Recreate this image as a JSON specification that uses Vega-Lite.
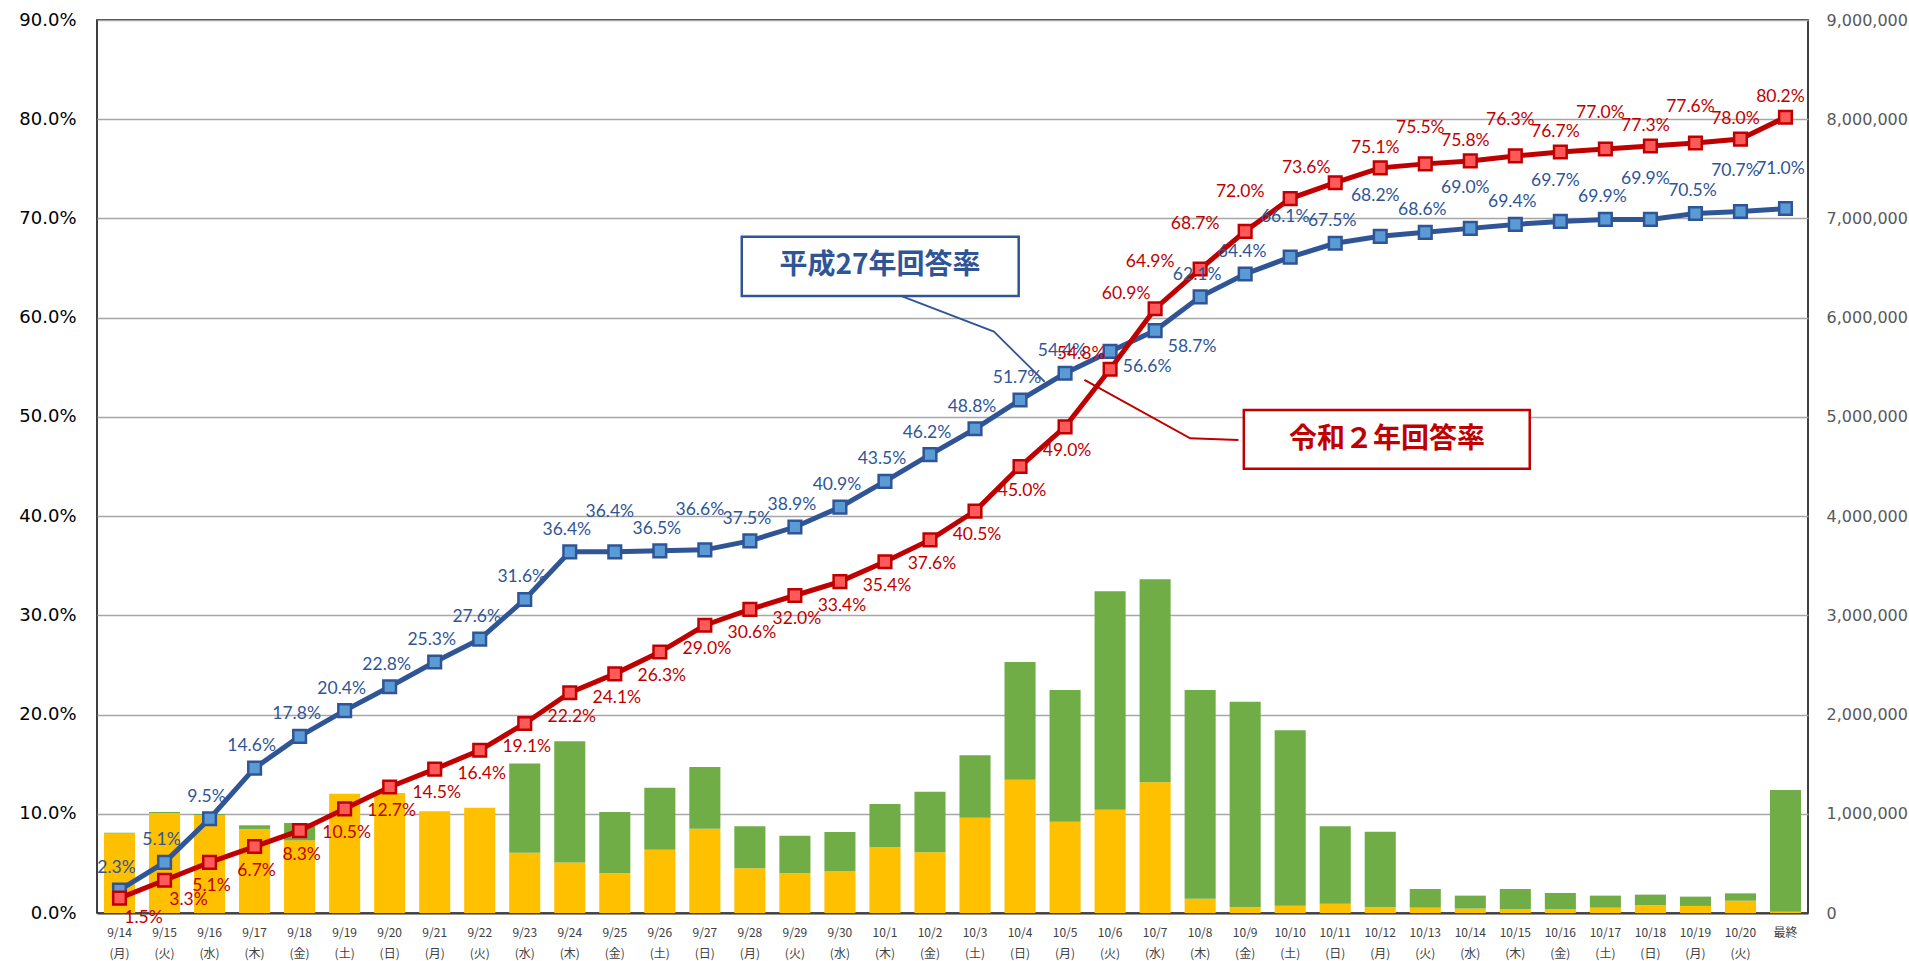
{
  "$schema": "https://vega.github.io/schema/vega-lite/v6.json",
  "width": 1711,
  "height": 893,
  "autosize": {"type": "none"},
  "padding": {"left": 97, "top": 20, "right": 101, "bottom": 48},
  "background": "#ffffff",
  "config": {
    "view": {"stroke": "#000000", "strokeWidth": 1.5},
    "axis": {"labelFont": "DejaVu Sans"}
  },
  "datasets": {
    "main": [
      {"d": "9/14|(月)", "net": 800000, "mail": 10000, "h27": 0.023, "r2": 0.015},
      {"d": "9/15|(火)", "net": 1008000, "mail": 10000, "h27": 0.051, "r2": 0.033},
      {"d": "9/16|(水)", "net": 985000, "mail": 13000, "h27": 0.095, "r2": 0.051},
      {"d": "9/17|(木)", "net": 847000, "mail": 37000, "h27": 0.146, "r2": 0.067},
      {"d": "9/18|(金)", "net": 732000, "mail": 175000, "h27": 0.178, "r2": 0.083},
      {"d": "9/19|(土)", "net": 1203000, "mail": 0, "h27": 0.204, "r2": 0.105},
      {"d": "9/20|(日)", "net": 1210000, "mail": 0, "h27": 0.228, "r2": 0.127},
      {"d": "9/21|(月)", "net": 1025000, "mail": 0, "h27": 0.253, "r2": 0.145},
      {"d": "9/22|(火)", "net": 1062000, "mail": 0, "h27": 0.276, "r2": 0.164},
      {"d": "9/23|(水)", "net": 606000, "mail": 901000, "h27": 0.316, "r2": 0.191},
      {"d": "9/24|(木)", "net": 508000, "mail": 1222000, "h27": 0.364, "r2": 0.222},
      {"d": "9/25|(金)", "net": 400000, "mail": 618000, "h27": 0.364, "r2": 0.241},
      {"d": "9/26|(土)", "net": 638000, "mail": 625000, "h27": 0.365, "r2": 0.263},
      {"d": "9/27|(日)", "net": 850000, "mail": 622000, "h27": 0.366, "r2": 0.290},
      {"d": "9/28|(月)", "net": 450000, "mail": 424000, "h27": 0.375, "r2": 0.306},
      {"d": "9/29|(火)", "net": 400000, "mail": 379000, "h27": 0.389, "r2": 0.320},
      {"d": "9/30|(水)", "net": 423000, "mail": 393000, "h27": 0.409, "r2": 0.334},
      {"d": "10/1|(木)", "net": 665000, "mail": 434000, "h27": 0.435, "r2": 0.354},
      {"d": "10/2|(金)", "net": 612000, "mail": 611000, "h27": 0.462, "r2": 0.376},
      {"d": "10/3|(土)", "net": 961000, "mail": 629000, "h27": 0.488, "r2": 0.405},
      {"d": "10/4|(日)", "net": 1344000, "mail": 1186000, "h27": 0.517, "r2": 0.450},
      {"d": "10/5|(月)", "net": 920000, "mail": 1328000, "h27": 0.544, "r2": 0.490},
      {"d": "10/6|(火)", "net": 1041000, "mail": 2202000, "h27": 0.566, "r2": 0.548},
      {"d": "10/7|(水)", "net": 1317000, "mail": 2047000, "h27": 0.587, "r2": 0.609},
      {"d": "10/8|(木)", "net": 144000, "mail": 2104000, "h27": 0.621, "r2": 0.649},
      {"d": "10/9|(金)", "net": 60000, "mail": 2070000, "h27": 0.644, "r2": 0.687},
      {"d": "10/10|(土)", "net": 74000, "mail": 1767000, "h27": 0.661, "r2": 0.720},
      {"d": "10/11|(日)", "net": 94000, "mail": 780000, "h27": 0.675, "r2": 0.736},
      {"d": "10/12|(月)", "net": 60000, "mail": 760000, "h27": 0.682, "r2": 0.751},
      {"d": "10/13|(火)", "net": 54000, "mail": 188000, "h27": 0.686, "r2": 0.755},
      {"d": "10/14|(水)", "net": 45000, "mail": 130000, "h27": 0.690, "r2": 0.758},
      {"d": "10/15|(木)", "net": 40000, "mail": 202000, "h27": 0.694, "r2": 0.763},
      {"d": "10/16|(金)", "net": 40000, "mail": 162000, "h27": 0.697, "r2": 0.767},
      {"d": "10/17|(土)", "net": 54000, "mail": 121000, "h27": 0.699, "r2": 0.770},
      {"d": "10/18|(日)", "net": 78000, "mail": 107000, "h27": 0.699, "r2": 0.773},
      {"d": "10/19|(月)", "net": 71000, "mail": 94000, "h27": 0.705, "r2": 0.776},
      {"d": "10/20|(火)", "net": 124000, "mail": 74000, "h27": 0.707, "r2": 0.780},
      {"d": "最終", "net": 13000, "mail": 1227000, "h27": 0.710, "r2": 0.802}
    ],
    "lead": [
      {"series": "H27", "x": 17.68, "y": 0.6249, "o": 1},
      {"series": "H27", "x": 19.92, "y": 0.5860, "o": 2},
      {"series": "H27", "x": 21.05, "y": 0.5352, "o": 3},
      {"series": "R2", "x": 25.35, "y": 0.4767, "o": 1},
      {"series": "R2", "x": 24.28, "y": 0.4784, "o": 2},
      {"series": "R2", "x": 21.93, "y": 0.5372, "o": 3}
    ],
    "annot": [
      {"series": "H27", "x1": 14.32, "x2": 20.47, "y1": 0.6816, "y2": 0.6219, "xm": 17.39, "ym": 0.6517, "t": "平成27年回答率"},
      {"series": "R2", "x1": 25.47, "x2": 31.82, "y1": 0.5069, "y2": 0.4478, "xm": 28.65, "ym": 0.4767, "t": "令和２年回答率"}
    ]
  },
  "data": {"name": "main"},
  "encoding": {
    "x": {
      "field": "d", "type": "nominal", "sort": null,
      "scale": {
        "domain": ["9/14|(月)", "9/15|(火)", "9/16|(水)", "9/17|(木)", "9/18|(金)", "9/19|(土)", "9/20|(日)", "9/21|(月)", "9/22|(火)", "9/23|(水)", "9/24|(木)", "9/25|(金)", "9/26|(土)", "9/27|(日)", "9/28|(月)", "9/29|(火)", "9/30|(水)", "10/1|(木)", "10/2|(金)", "10/3|(土)", "10/4|(日)", "10/5|(月)", "10/6|(火)", "10/7|(水)", "10/8|(木)", "10/9|(金)", "10/10|(土)", "10/11|(日)", "10/12|(月)", "10/13|(火)", "10/14|(水)", "10/15|(木)", "10/16|(金)", "10/17|(土)", "10/18|(日)", "10/19|(月)", "10/20|(火)", "最終"],
        "paddingInner": 0.31, "paddingOuter": 0.155
      },
      "axis": null
    }
  },
  "layer": [
    {
      "transform": [{"fold": ["net", "mail"], "as": ["k", "v"]}],
      "mark": {"type": "bar"},
      "encoding": {
        "x": {
          "field": "d", "type": "nominal", "sort": null,
          "scale": {
            "domain": ["9/14|(月)", "9/15|(火)", "9/16|(水)", "9/17|(木)", "9/18|(金)", "9/19|(土)", "9/20|(日)", "9/21|(月)", "9/22|(火)", "9/23|(水)", "9/24|(木)", "9/25|(金)", "9/26|(土)", "9/27|(日)", "9/28|(月)", "9/29|(火)", "9/30|(水)", "10/1|(木)", "10/2|(金)", "10/3|(土)", "10/4|(日)", "10/5|(月)", "10/6|(火)", "10/7|(水)", "10/8|(木)", "10/9|(金)", "10/10|(土)", "10/11|(日)", "10/12|(月)", "10/13|(火)", "10/14|(水)", "10/15|(木)", "10/16|(金)", "10/17|(土)", "10/18|(日)", "10/19|(月)", "10/20|(火)", "最終"],
            "paddingInner": 0.31, "paddingOuter": 0.155
          },
          "axis": {
            "title": null, "labelAngle": 0, "labelExpr": "split(datum.value, '|')",
            "labelFont": "Noto Sans CJK JP", "labelFontSize": 12, "labelColor": "#404040",
            "labelLineHeight": 21, "labelPadding": 14, "labelOverlap": false,
            "ticks": false, "domainColor": "#404040", "domainWidth": 2
          }
        },
        "y": {
          "field": "v", "type": "quantitative", "stack": "zero",
          "scale": {"domain": [0, 9000000], "nice": false},
          "axis": {
            "orient": "right", "title": null,
            "values": [0, 1000000, 2000000, 3000000, 4000000, 5000000, 6000000, 7000000, 8000000, 9000000],
            "format": ",d", "labelFontSize": 16, "labelColor": "#595959", "labelPadding": 18,
            "ticks": false, "domain": false, "grid": false
          }
        },
        "color": {
          "field": "k", "type": "nominal",
          "scale": {"domain": ["net", "mail"], "range": ["#FFC000", "#70AD47"]},
          "legend": null
        },
        "order": {"field": "k", "sort": "descending"}
      }
    },
    {
      "mark": {"type": "line", "color": "#2F5597", "strokeWidth": 5},
      "encoding": {
        "y": {
          "field": "h27", "type": "quantitative",
          "scale": {"domain": [0, 0.9], "nice": false},
          "axis": {
            "orient": "left", "title": null,
            "values": [0, 0.1, 0.2, 0.3, 0.4, 0.5, 0.6, 0.7, 0.8, 0.9],
            "format": ".1%", "labelFontSize": 18, "labelColor": "#000000", "labelPadding": 21,
            "ticks": false, "domain": false, "grid": true, "gridColor": "#A6A6A6", "gridWidth": 1.5
          }
        }
      }
    },
    {
      "mark": {"type": "point", "shape": "square", "size": 160, "filled": true, "fill": "#5B9BD5", "stroke": "#2F5597", "strokeWidth": 2.5, "opacity": 1},
      "encoding": {"y": {"field": "h27", "type": "quantitative", "scale": {"domain": [0, 0.9], "nice": false}, "axis": null}}
    },
    {
      "mark": {"type": "line", "color": "#C00000", "strokeWidth": 5},
      "encoding": {"y": {"field": "r2", "type": "quantitative", "scale": {"domain": [0, 0.9], "nice": false}, "axis": null}}
    },
    {
      "mark": {"type": "point", "shape": "square", "size": 160, "filled": true, "fill": "#FF5A5A", "stroke": "#C00000", "strokeWidth": 2.5, "opacity": 1},
      "encoding": {"y": {"field": "r2", "type": "quantitative", "scale": {"domain": [0, 0.9], "nice": false}, "axis": null}}
    },
    {
      "transform": [{"filter": {"not": {"field": "d", "oneOf": ["9/25|(金)", "9/27|(日)", "10/10|(土)", "10/12|(月)", "10/14|(水)", "10/16|(金)", "10/18|(日)", "10/20|(火)", "最終", "10/6|(火)", "10/7|(水)"]}}}],
      "mark": {"type": "text", "font": "Lato", "fontSize": 17.5, "color": "#2F5597", "dx": -3, "dy": -22},
      "encoding": {"y": {"field": "h27", "type": "quantitative", "scale": {"domain": [0, 0.9], "nice": false}, "axis": null}, "text": {"field": "h27", "type": "quantitative", "format": ".1%"}}
    },
    {
      "transform": [{"filter": {"field": "d", "oneOf": ["9/25|(金)", "9/27|(日)", "10/10|(土)", "10/12|(月)", "10/14|(水)", "10/16|(金)", "10/18|(日)", "10/20|(火)", "最終"]}}],
      "mark": {"type": "text", "font": "Lato", "fontSize": 17.5, "color": "#2F5597", "dx": -5, "dy": -40},
      "encoding": {"y": {"field": "h27", "type": "quantitative", "scale": {"domain": [0, 0.9], "nice": false}, "axis": null}, "text": {"field": "h27", "type": "quantitative", "format": ".1%"}}
    },
    {
      "transform": [{"filter": {"field": "d", "oneOf": ["10/6|(火)", "10/7|(水)"]}}],
      "mark": {"type": "text", "font": "Lato", "fontSize": 17.5, "color": "#2F5597", "dx": 37, "dy": 16},
      "encoding": {"y": {"field": "h27", "type": "quantitative", "scale": {"domain": [0, 0.9], "nice": false}, "axis": null}, "text": {"field": "h27", "type": "quantitative", "format": ".1%"}}
    },
    {
      "transform": [{"filter": {"field": "d", "oneOf": ["9/14|(月)", "9/15|(火)"]}}],
      "mark": {"type": "text", "font": "Lato", "fontSize": 17.5, "color": "#C00000", "dx": 24, "dy": 20},
      "encoding": {"y": {"field": "r2", "type": "quantitative", "scale": {"domain": [0, 0.9], "nice": false}, "axis": null}, "text": {"field": "r2", "type": "quantitative", "format": ".1%"}}
    },
    {
      "transform": [{"filter": {"not": {"field": "d", "oneOf": ["9/14|(月)", "9/15|(火)", "10/6|(火)", "10/7|(水)", "10/8|(木)", "10/9|(金)", "10/10|(土)", "10/11|(日)", "10/12|(月)", "10/13|(火)", "10/14|(水)", "10/15|(木)", "10/16|(金)", "10/17|(土)", "10/18|(日)", "10/19|(月)", "10/20|(火)", "最終"]}}}],
      "mark": {"type": "text", "font": "Lato", "fontSize": 17.5, "color": "#C00000", "dx": 2, "dy": 24},
      "encoding": {"y": {"field": "r2", "type": "quantitative", "scale": {"domain": [0, 0.9], "nice": false}, "axis": null}, "text": {"field": "r2", "type": "quantitative", "format": ".1%"}}
    },
    {
      "transform": [{"filter": {"field": "d", "oneOf": ["10/8|(木)", "10/9|(金)", "10/10|(土)"]}}],
      "mark": {"type": "text", "font": "Lato", "fontSize": 17.5, "color": "#C00000", "dx": -50, "dy": -7},
      "encoding": {"y": {"field": "r2", "type": "quantitative", "scale": {"domain": [0, 0.9], "nice": false}, "axis": null}, "text": {"field": "r2", "type": "quantitative", "format": ".1%"}}
    },
    {
      "transform": [{"filter": {"field": "d", "oneOf": ["10/6|(火)", "10/7|(水)", "10/11|(日)"]}}],
      "mark": {"type": "text", "font": "Lato", "fontSize": 17.5, "color": "#C00000", "dx": -29, "dy": -15},
      "encoding": {"y": {"field": "r2", "type": "quantitative", "scale": {"domain": [0, 0.9], "nice": false}, "axis": null}, "text": {"field": "r2", "type": "quantitative", "format": ".1%"}}
    },
    {
      "transform": [{"filter": {"field": "d", "oneOf": ["10/12|(月)", "10/14|(水)", "10/16|(金)", "10/18|(日)", "10/20|(火)", "最終"]}}],
      "mark": {"type": "text", "font": "Lato", "fontSize": 17.5, "color": "#C00000", "dx": -5, "dy": -20},
      "encoding": {"y": {"field": "r2", "type": "quantitative", "scale": {"domain": [0, 0.9], "nice": false}, "axis": null}, "text": {"field": "r2", "type": "quantitative", "format": ".1%"}}
    },
    {
      "transform": [{"filter": {"field": "d", "oneOf": ["10/13|(火)", "10/15|(木)", "10/17|(土)", "10/19|(月)"]}}],
      "mark": {"type": "text", "font": "Lato", "fontSize": 17.5, "color": "#C00000", "dx": -5, "dy": -36},
      "encoding": {"y": {"field": "r2", "type": "quantitative", "scale": {"domain": [0, 0.9], "nice": false}, "axis": null}, "text": {"field": "r2", "type": "quantitative", "format": ".1%"}}
    },
    {
      "data": {"name": "lead"},
      "transform": [{"filter": {"field": "series", "equal": "H27"}}],
      "mark": {"type": "line", "strokeWidth": 1.8, "color": "#2F5597"},
      "encoding": {
        "x": {"field": "x", "type": "quantitative", "scale": {"domain": [0, 38], "nice": false, "zero": false}, "axis": null},
        "y": {"field": "y", "type": "quantitative", "scale": {"domain": [0, 0.9], "nice": false}, "axis": null},
        "order": {"field": "o"}
      }
    },
    {
      "data": {"name": "lead"},
      "transform": [{"filter": {"field": "series", "equal": "R2"}}],
      "mark": {"type": "line", "strokeWidth": 2, "color": "#C00000"},
      "encoding": {
        "x": {"field": "x", "type": "quantitative", "scale": {"domain": [0, 38], "nice": false, "zero": false}, "axis": null},
        "y": {"field": "y", "type": "quantitative", "scale": {"domain": [0, 0.9], "nice": false}, "axis": null},
        "order": {"field": "o"}
      }
    },
    {
      "data": {"name": "annot"},
      "transform": [{"filter": {"field": "series", "equal": "H27"}}],
      "mark": {"type": "rect", "fill": "#ffffff", "stroke": "#2F5597", "strokeWidth": 2.5},
      "encoding": {
        "x": {"field": "x1", "type": "quantitative", "scale": {"domain": [0, 38], "nice": false, "zero": false}, "axis": null},
        "x2": {"field": "x2"},
        "y": {"field": "y1", "type": "quantitative", "scale": {"domain": [0, 0.9], "nice": false}, "axis": null},
        "y2": {"field": "y2"}
      }
    },
    {
      "data": {"name": "annot"},
      "transform": [{"filter": {"field": "series", "equal": "R2"}}],
      "mark": {"type": "rect", "fill": "#ffffff", "stroke": "#C00000", "strokeWidth": 2.5},
      "encoding": {
        "x": {"field": "x1", "type": "quantitative", "scale": {"domain": [0, 38], "nice": false, "zero": false}, "axis": null},
        "x2": {"field": "x2"},
        "y": {"field": "y1", "type": "quantitative", "scale": {"domain": [0, 0.9], "nice": false}, "axis": null},
        "y2": {"field": "y2"}
      }
    },
    {
      "data": {"name": "annot"},
      "transform": [{"filter": {"field": "series", "equal": "H27"}}],
      "mark": {"type": "text", "font": "Noto Sans CJK JP", "fontSize": 28, "fontWeight": "bold", "baseline": "middle", "align": "center", "color": "#2F5597"},
      "encoding": {
        "x": {"field": "xm", "type": "quantitative", "scale": {"domain": [0, 38], "nice": false, "zero": false}, "axis": null},
        "y": {"field": "ym", "type": "quantitative", "scale": {"domain": [0, 0.9], "nice": false}, "axis": null},
        "text": {"field": "t"}
      }
    },
    {
      "data": {"name": "annot"},
      "transform": [{"filter": {"field": "series", "equal": "R2"}}],
      "mark": {"type": "text", "font": "Noto Sans CJK JP", "fontSize": 28, "fontWeight": "bold", "baseline": "middle", "align": "center", "color": "#C00000"},
      "encoding": {
        "x": {"field": "xm", "type": "quantitative", "scale": {"domain": [0, 38], "nice": false, "zero": false}, "axis": null},
        "y": {"field": "ym", "type": "quantitative", "scale": {"domain": [0, 0.9], "nice": false}, "axis": null},
        "text": {"field": "t"}
      }
    }
  ],
  "resolve": {"scale": {"x": "independent", "y": "independent", "color": "independent"}}
}
